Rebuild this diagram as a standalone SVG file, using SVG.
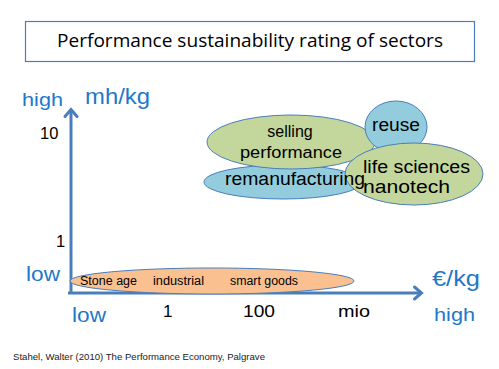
<svg xmlns="http://www.w3.org/2000/svg" width="499" height="369" viewBox="0 0 499 369">
<style>
.ax{stroke:#4a7ebb;stroke-width:3;fill:none}
.ah{stroke:#4a7ebb;stroke-width:3;fill:none;stroke-linecap:round;stroke-linejoin:miter}
.b{fill:#1f78c8;font-family:"Liberation Sans",Arial,sans-serif}
.k{fill:#000;font-family:"Liberation Sans",Arial,sans-serif}
.e{stroke:#4a7ebb;stroke-width:1}
</style>
<rect width="499" height="369" fill="#fff"/>
<g id="title">
<rect x="25.5" y="21.5" width="449" height="40" fill="#fff" stroke="#4a7ebb" stroke-width="1.2"/>
<text x="57" y="47" textLength="386" lengthAdjust="spacingAndGlyphs" font-family="Open Sans, Liberation Sans, sans-serif" font-size="18" fill="#000">Performance sustainability rating of sectors</text>
</g>
<g id="connectors">
<line class="ax" x1="71" y1="293" x2="71" y2="110"/>
<polyline class="ah" points="65,116.5 71,109.5 77,116.5"/>
<line class="ax" x1="68" y1="293" x2="421" y2="293"/>
<polyline class="ah" points="414.5,287 421.5,293 414.5,299"/>
</g>
<g id="axis-labels">
<text class="b" x="22" y="106" font-size="19" textLength="41" lengthAdjust="spacingAndGlyphs">high</text>
<text class="b" x="85" y="104" font-size="22.5" textLength="65" lengthAdjust="spacingAndGlyphs">mh/kg</text>
<text class="k" x="40" y="139" font-size="16.5">10</text>
<text class="k" x="56" y="247" font-size="16.5">1</text>
<text class="b" x="26" y="281" font-size="19.5" textLength="34" lengthAdjust="spacingAndGlyphs">low</text>
<text class="b" x="72" y="322" font-size="19.5" textLength="34" lengthAdjust="spacingAndGlyphs">low</text>
<text class="k" x="163" y="317" font-size="17">1</text>
<text class="k" x="243" y="317" font-size="17" textLength="32" lengthAdjust="spacingAndGlyphs">100</text>
<text class="k" x="338" y="317" font-size="17" textLength="32" lengthAdjust="spacingAndGlyphs">mio</text>
<text class="b" x="432" y="286" font-size="22.5" textLength="48" lengthAdjust="spacingAndGlyphs">€/kg</text>
<text class="b" x="434" y="321" font-size="19" textLength="41" lengthAdjust="spacingAndGlyphs">high</text>
</g>
<g id="era">
<ellipse class="e" cx="212" cy="281" rx="142" ry="13" fill="#fac090"/>
<text class="k" x="80" y="285" font-size="12" textLength="57" lengthAdjust="spacingAndGlyphs">Stone age</text>
<text class="k" x="153" y="285" font-size="12" textLength="51" lengthAdjust="spacingAndGlyphs">industrial</text>
<text class="k" x="230" y="285" font-size="12" textLength="68" lengthAdjust="spacingAndGlyphs">smart goods</text>
</g>
<g id="remanufacturing">
<ellipse class="e" cx="283" cy="182" rx="79" ry="17" fill="#93cddd"/>
</g>
<g id="selling-performance">
<ellipse class="e" cx="291" cy="142" rx="84" ry="27" fill="#c3d69b"/>
<text class="k" x="290" y="137" font-size="16" text-anchor="middle">selling</text>
<text class="k" x="240" y="158" font-size="16" textLength="102" lengthAdjust="spacingAndGlyphs">performance</text>
</g>
<g id="reuse">
<ellipse class="e" cx="396" cy="127" rx="31" ry="26" fill="#93cddd"/>
<text class="k" x="372" y="131" font-size="18" textLength="48" lengthAdjust="spacingAndGlyphs">reuse</text>
</g>
<g id="life-sciences">
<ellipse class="e" cx="414" cy="174" rx="69" ry="31" fill="#c3d69b"/>
<text class="k" x="363" y="173" font-size="18" textLength="107" lengthAdjust="spacingAndGlyphs">life sciences</text>
<text class="k" x="363" y="193" font-size="18" textLength="87" lengthAdjust="spacingAndGlyphs">nanotech</text>
</g>
<g id="remanufacturing-label">
<text class="k" x="225" y="185" font-size="18" textLength="140" lengthAdjust="spacingAndGlyphs">remanufacturing</text>
</g>
<text x="13" y="360" font-family="Liberation Sans, Arial, sans-serif" font-size="9" textLength="252" lengthAdjust="spacingAndGlyphs" fill="#222">Stahel, Walter (2010) The  Performance Economy, Palgrave</text>
</svg>
